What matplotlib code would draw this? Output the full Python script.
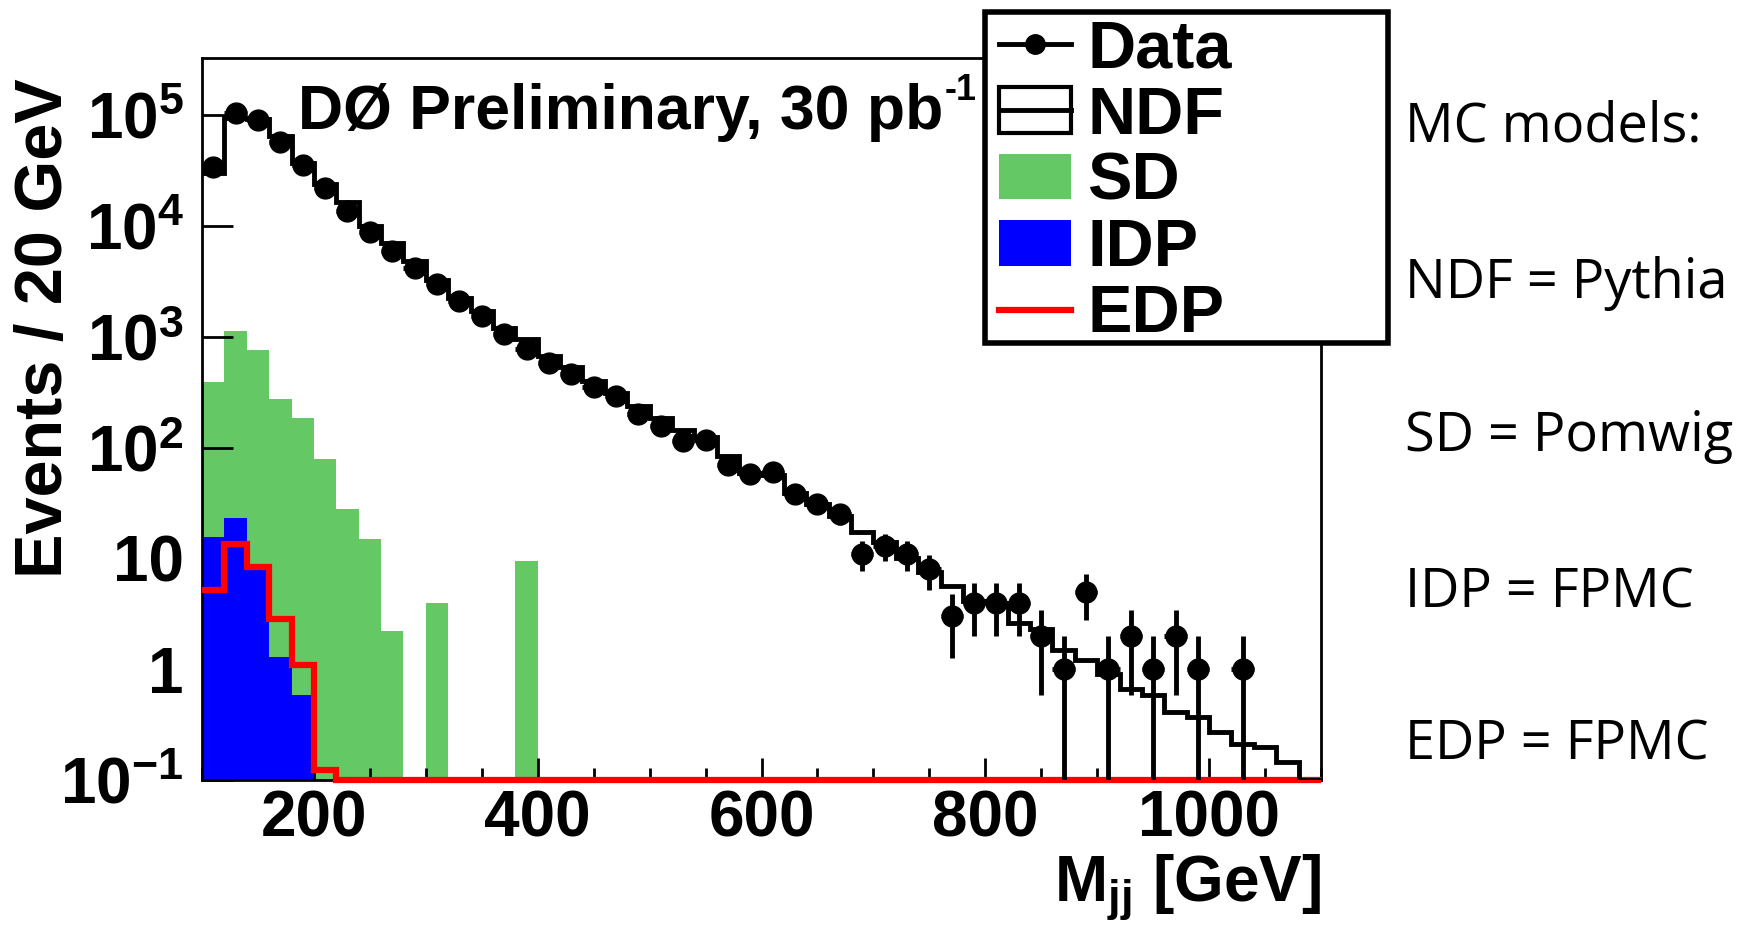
import numpy as np
import matplotlib
matplotlib.use('Agg')
import matplotlib.pyplot as plt
from matplotlib.patches import Patch, Rectangle
from matplotlib.lines import Line2D
from matplotlib.legend_handler import HandlerTuple
from matplotlib.ticker import FixedLocator, MultipleLocator, LogLocator, NullFormatter

plt.rcParams['font.family'] = ['Liberation Sans', 'DejaVu Sans']
plt.rcParams['font.weight'] = 'bold'
plt.rcParams['mathtext.fontset'] = 'custom'
plt.rcParams['mathtext.rm'] = 'Liberation Sans:bold'
plt.rcParams['mathtext.bf'] = 'Liberation Sans:bold'
plt.rcParams['mathtext.it'] = 'Liberation Sans:bold'

# binning: 20 GeV bins from 100 to 1100 GeV
bin_lo = 100
bin_hi = 1100
bin_w = 20

# data counts per bin (0 = empty bin, not drawn)
data = [34000, 105000, 90000, 58000, 36000, 22000, 13600, 8900, 6000, 4200,
        3000, 2100, 1550, 1060, 775, 587, 461, 350, 292, 200,
        156, 116, 118, 70, 58, 60, 38, 31, 25, 11,
        13, 11, 8, 3, 4, 4, 4, 2, 1, 5,
        1, 2, 1, 2, 1, 0, 1, 0, 0, 0]

# MC predictions
ndf = [30000, 94000, 93000, 65000, 37000, 24000, 16500, 10000, 7100, 4800,
       3300, 2260, 1710, 1210, 955, 676, 530, 400, 315, 240,
       185, 145, 125, 85, 59, 57, 39, 31, 24, 17.2,
       14, 10, 7.6, 5.7, 4.1, 4.0, 2.6, 2.3, 1.5, 1.2,
       0.9, 0.67, 0.58, 0.41, 0.37, 0.27, 0.21, 0.2, 0.146, 0]
sd = [390, 1130, 760, 278, 184, 79, 28, 15, 2.2, 0,
      4, 0, 0, 0, 9.5] + [0] * 35
idp = [15.5, 23, 8, 1.3, 0.58] + [0] * 45
edp = [5.2, 13.6, 8.4, 2.85, 1.09, 0.123] + [0] * 44

ytick_vals = [0.1, 1, 10, 100, 1000, 10000, 100000]
ytick_labels = [r'$10^{-1}$', '1', '10', r'$10^{2}$', r'$10^{3}$', r'$10^{4}$', r'$10^{5}$']
xtick_vals = [200, 400, 600, 800, 1000]

green = '#64c964'
blue = '#0000ff'
red = '#ff0000'
ymin, ymax = 0.1, 3.3e5

edges = np.arange(bin_lo, bin_hi + 1, bin_w)
centers = edges[:-1] + bin_w / 2
data = np.array(data, dtype=float)
data_plot = np.where(data > 0, data, np.nan)

fig = plt.figure(figsize=(17.46, 9.27), dpi=100)
W, H = 1746, 927
ax = fig.add_axes([202 / W, 1 - 780 / H, (1321 - 202) / W, (780 - 58) / H])

sd_art = ax.stairs(sd, edges, fill=True, color=green, lw=0, zorder=1)
idp_art = ax.stairs(idp, edges, fill=True, color=blue, lw=0, zorder=2)
# empty bins drawn at the axis floor, ROOT style
edp_art = ax.stairs(np.maximum(edp, ymin), edges, baseline=None, color=red,
                    lw=4.5, zorder=3, clip_on=False)
ndf_art = ax.stairs(np.maximum(ndf, ymin), edges, baseline=None, color='k',
                    lw=3.5, zorder=4)
ax.errorbar(centers, data_plot, yerr=np.sqrt(data_plot), xerr=bin_w / 2,
            fmt='o', color='k', ms=15, elinewidth=3.5, capsize=0, zorder=5)

ax.set_yscale('log')
ax.set_xlim(bin_lo, bin_hi)
ax.set_ylim(ymin, ymax)
ax.yaxis.set_major_locator(FixedLocator(ytick_vals))
ax.set_yticklabels(ytick_labels)
ax.yaxis.set_minor_locator(LogLocator(base=10, subs=np.arange(2, 10)))
ax.yaxis.set_minor_formatter(NullFormatter())
ax.xaxis.set_major_locator(FixedLocator(xtick_vals))
ax.xaxis.set_minor_locator(MultipleLocator(50))

ax.tick_params(axis='y', which='major', direction='in', length=22, width=2,
               labelsize=46, pad=13, right=False)
ax.tick_params(axis='y', which='minor', direction='in', length=12, width=2, right=False)
ax.tick_params(axis='x', which='major', direction='in', length=16, width=2,
               labelsize=46, pad=7, top=False)
ax.tick_params(axis='x', which='minor', direction='in', length=8.5, width=2, top=False)
for s in ax.spines.values():
    s.set_linewidth(2)

fig.text(45 / W, 1 - 78 / H, 'Events / 20 GeV', rotation=90, ha='center', va='top',
         fontsize=48, fontweight='bold')
fig.text(1321 / W, 1 - 902 / H, r'M$_{jj}$ [GeV]', ha='right', va='baseline',
         fontsize=46, fontweight='bold')

title = fig.text(298 / W, 1 - 129 / H, 'DØ Preliminary, 30 pb', ha='left',
                 va='baseline', fontsize=45, fontweight='bold', zorder=3)
fig.canvas.draw()
tb = title.get_window_extent()
fig.text(tb.x1 / W + 1 / W, 1 - 100 / H, '-1', ha='left', va='baseline',
         fontsize=26, fontweight='bold', zorder=3)

# legend box, partly outside the frame
box = Rectangle((985 / W, 1 - 343 / H), (1388 - 985) / W, (343 - 12) / H,
                transform=fig.transFigure, facecolor='white', edgecolor='k',
                lw=4, zorder=4)
fig.add_artist(box)

data_h = Line2D([], [], color='k', marker='o', ms=14, lw=3.5)
ndf_h = (Patch(facecolor='white', edgecolor='k', lw=3), Line2D([], [], color='k', lw=3.5))
leg = fig.legend([data_h, ndf_h, sd_art, idp_art, edp_art],
                 ['Data', 'NDF', 'SD', 'IDP', 'EDP'],
                 loc='upper left', bbox_to_anchor=(992 / W, 1 - 12.5 / H),
                 frameon=False, prop={'weight': 'bold', 'size': 48},
                 handlelength=1.08, handleheight=0.68, handletextpad=0.25,
                 labelspacing=0.065, borderpad=0.1, borderaxespad=0,
                 handler_map={tuple: HandlerTuple(ndivide=1, pad=0)})
leg.set_zorder(5)

# side notes
notes = ['MC models:', 'NDF = Pythia', 'SD = Pomwig', 'IDP = FPMC', 'EDP = FPMC']
baselines = [142, 298, 451, 607, 760]
for t, b in zip(notes, baselines):
    fig.text(1405 / W, 1 - b / H, t, ha='left', va='baseline', fontsize=39,
             fontweight='normal', family=['Open Sans', 'DejaVu Sans'])

fig.savefig('out.png', dpi=100)
